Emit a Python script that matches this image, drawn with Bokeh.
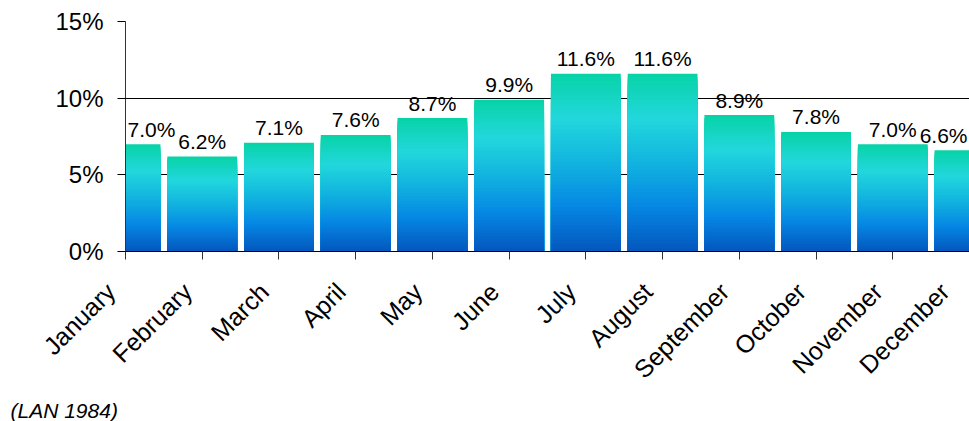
import numpy as np
from bokeh.plotting import figure
from bokeh.models import ColumnDataSource, Range1d, FixedTicker, Title
from bokeh.core.properties import value
from bokeh.embed import file_html
from bokeh.resources import INLINE

months = ["January", "February", "March", "April", "May", "June", "July",
          "August", "September", "October", "November", "December"]
shares = [7.0, 6.2, 7.1, 7.6, 8.7, 9.9, 11.6, 11.6, 8.9, 7.8, 7.0, 6.6]
y_ticks = [0, 5, 10, 15]
source_note = "(LAN 1984)"

FONT = "Liberation Sans"

# gradient stops: fraction from bottom -> colour
stop_pos = [0.0, 0.25, 0.5, 0.75, 1.0]
stop_col = ["#0456bc", "#0586e4", "#12b4df", "#22d7dc", "#07d3a6"]

def hex2rgb(h):
    h = h.lstrip("#")
    return np.array([int(h[i:i + 2], 16) for i in (0, 2, 4)], dtype=float)

stop_rgb = np.array([hex2rgb(c) for c in stop_col])

def grad(f):
    r = np.interp(f, stop_pos, stop_rgb[:, 0])
    g = np.interp(f, stop_pos, stop_rgb[:, 1])
    b = np.interp(f, stop_pos, stop_rgb[:, 2])
    return "#%02x%02x%02x" % (int(round(r)), int(round(g)), int(round(b)))

N = 48
xs, tops, cols = [], [], []
for i in range(N - 1, -1, -1):
    f = (i + 0.5) / N
    c = grad(f)
    for k, v in enumerate(shares):
        xs.append(k)
        tops.append(v * (i + 1) / N)
        cols.append(c)
bars = ColumnDataSource(dict(x=xs, top=tops, color=cols))

p = figure(width=969, height=421, output_backend="svg", toolbar_location=None,
           x_range=Range1d(0, len(months) - 1), y_range=Range1d(0, 15),
           min_border_left=125, min_border_top=21, min_border_right=0,
           min_border_bottom=168)
p.outline_line_color = None
p.background_fill_color = "white"

p.vbar(x="x", top="top", bottom=0, width=0.91, color="color", line_color=None,
       source=bars)

n = len(months)
lab_x = list(range(n))
lab_align = ["left" if k == 0 else ("right" if k == n - 1 else "center") for k in range(n)]
lab_xoff = [2 if k == 0 else (-2 if k == n - 1 else 0) for k in range(n)]
labels = ColumnDataSource(dict(x=lab_x, y=shares,
                               t=["%.1f%%" % v for v in shares],
                               align=lab_align, xoff=lab_xoff))
p.text(x="x", y="y", text="t", source=labels, text_align="align",
       x_offset="xoff", y_offset=-15, text_baseline="alphabetic",
       text_font=value(FONT), text_font_size="21px", text_color="black")

# grid
p.xgrid.grid_line_color = None
p.ygrid.ticker = FixedTicker(ticks=y_ticks)
p.ygrid.grid_line_color = "black"
p.ygrid.grid_line_width = 1

# y axis
p.yaxis.ticker = FixedTicker(ticks=y_ticks)
p.yaxis.major_label_overrides = {t: "%d%%" % t for t in y_ticks}
p.yaxis.major_label_text_font = FONT
p.yaxis.major_label_text_font_size = "24px"
p.yaxis.major_label_text_color = "black"
p.yaxis.major_tick_out = 8
p.yaxis.major_tick_in = 0
p.yaxis.minor_tick_line_color = None
p.yaxis.axis_line_color = "#333333"
p.yaxis.major_tick_line_color = "black"
p.yaxis.major_label_standoff = 14

# x axis (trailing no-break spaces pull each rotated label left of its tick)
p.xaxis.ticker = FixedTicker(ticks=list(range(n)))
p.xaxis.major_label_overrides = {k: m + "\u00a0\u00a0\u00a0" for k, m in enumerate(months)}
p.xaxis.major_label_orientation = np.pi / 4
p.xaxis.major_label_text_font = FONT
p.xaxis.major_label_text_font_size = "25px"
p.xaxis.major_label_text_color = "black"
p.xaxis.major_tick_out = 8
p.xaxis.major_tick_in = 0
p.xaxis.minor_tick_line_color = None
p.xaxis.axis_line_color = "black"
p.xaxis.major_tick_line_color = "#333333"
p.xaxis.major_label_standoff = 13

note = Title(text=source_note, align="left", offset=-115,
             text_font=FONT, text_font_size="21px", text_font_style="italic",
             text_color="black", standoff=0)
p.add_layout(note, "below")

open("out.html", "w").write(file_html(p, INLINE))
